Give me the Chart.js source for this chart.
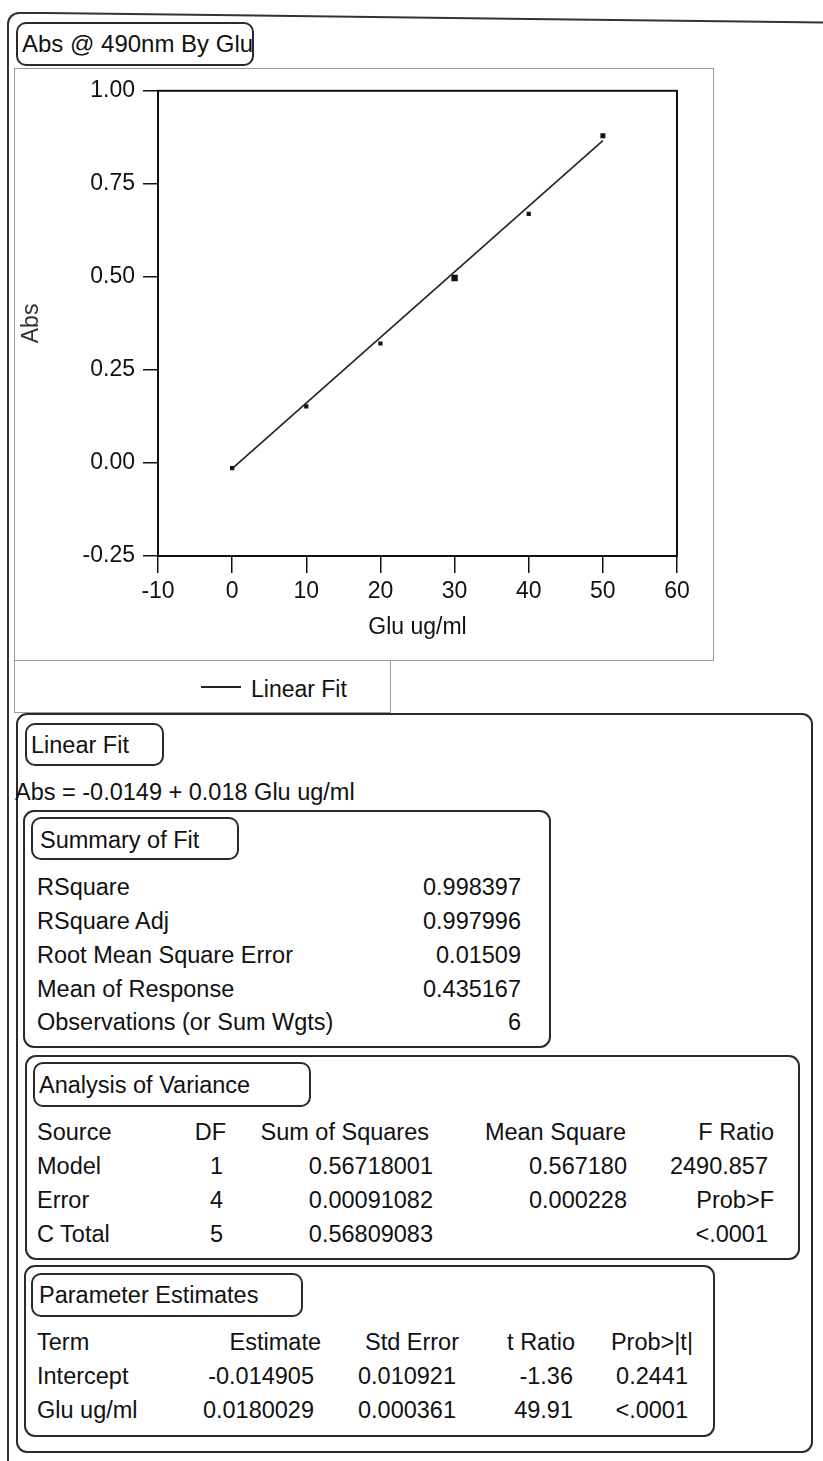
<!DOCTYPE html>
<html>
<head>
<meta charset="utf-8">
<script src="https://cdn.jsdelivr.net/npm/chart.js@4.4.1/dist/chart.umd.min.js"></script>
<style>
  html, body { margin: 0; padding: 0; background: #fff; }
  body { width: 823px; height: 1461px; position: relative; overflow: hidden;
         font-family: "Liberation Sans", Arial, sans-serif; color: #111; }
  .abs { position: absolute; box-sizing: border-box; }
  .rbox { border: 2px solid #2a2a2a; border-radius: 11px; }
  .hdr { border: 2px solid #2a2a2a; border-radius: 10px; }
  .txt { position: absolute; white-space: nowrap; font-size: 23.5px; line-height: 28px; transform: translateY(-50%); }
  .r { text-align: right; }
</style>
</head>
<body>
<script>
// ---------------- data ----------------
const gluValues = [0, 10, 20, 30, 40, 50];
const absValues = [-0.014, 0.152, 0.321, 0.497, 0.669, 0.879];
const fitX = [0, 50];
const fitY = [-0.015, 0.866];
const xTickValues = [-10, 0, 10, 20, 30, 40, 50, 60];
const yTickValues = [-0.25, 0.00, 0.25, 0.50, 0.75, 1.00];
const chartTitle = "Abs @ 490nm By Glu";
const xAxisTitle = "Glu ug/ml";
const yAxisTitle = "Abs";
const legendLabel = "Linear Fit";

const fitHeader = "Linear Fit";
const fitEquation = "Abs = -0.0149 + 0.018 Glu ug/ml";

const summaryTitle = "Summary of Fit";
const summaryLabels = ["RSquare", "RSquare Adj", "Root Mean Square Error", "Mean of Response", "Observations (or Sum Wgts)"];
const summaryValues = ["0.998397", "0.997996", "0.01509", "0.435167", "6"];

const anovaTitle = "Analysis of Variance";
const anovaHeader = ["Source", "DF", "Sum of Squares", "Mean Square", "F Ratio"];
const anovaSource = ["Model", "Error", "C Total"];
const anovaDF = ["1", "4", "5"];
const anovaSS = ["0.56718001", "0.00091082", "0.56809083"];
const anovaMS = ["0.567180", "0.000228", ""];
const anovaF = ["2490.857", "Prob>F", "<.0001"];

const paramTitle = "Parameter Estimates";
const paramHeader = ["Term", "Estimate", "Std Error", "t Ratio", "Prob>|t|"];
const paramTerm = ["Intercept", "Glu ug/ml"];
const paramEstimate = ["-0.014905", "0.0180029"];
const paramStdErr = ["0.010921", "0.000361"];
const paramT = ["-1.36", "49.91"];
const paramP = ["0.2441", "<.0001"];

// ---------------- layout helpers ----------------
function box(cls, l, t, w, h, extra) {
  const d = document.createElement('div');
  d.className = 'abs ' + cls;
  Object.assign(d.style, { left: l + 'px', top: t + 'px', width: w + 'px', height: h + 'px' }, extra || {});
  document.body.appendChild(d);
  return d;
}
function text(str, x, y, right, size) {
  const d = document.createElement('div');
  d.className = 'txt' + (right ? ' r' : '');
  d.textContent = str;
  d.style.top = y + 'px';
  if (size) d.style.fontSize = size + 'px';
  if (right) { d.style.right = (823 - x) + 'px'; } else { d.style.left = x + 'px'; }
  document.body.appendChild(d);
  return d;
}

// outer frame (left edge + rounded corner, then slightly skewed top line)
box('', 7, 12, 40, 1600, { borderLeft: '2px solid #333', borderTop: '2px solid #333', borderTopLeftRadius: '12px' });
box('', 46, 12, 800, 2, { background: '#333', transformOrigin: '0 0', transform: 'rotate(0.7deg)' });
// title box
box('hdr', 16, 22, 238, 44);
text(chartTitle, 22, 44, false, 24);
// chart panel
box('', 14, 68, 700, 593, { border: '1.5px solid #9a9a9a', background: '#fff' });
// legend box
box('', 14, 660, 377, 53, { borderLeft: '1.5px solid #9a9a9a', borderRight: '1.5px solid #9a9a9a', borderBottom: '1.5px solid #9a9a9a' });
box('', 201, 686, 40, 2, { background: '#222' });
text(legendLabel, 251, 689, false, 23);

// lower big box
box('rbox', 16, 713, 797, 740);
box('hdr', 25, 723, 139, 43);
text(fitHeader, 31, 745);
text(fitEquation, 15, 792);

// summary
box('rbox', 23, 810, 528, 238);
box('hdr', 31, 817, 208, 43);
text(summaryTitle, 40, 840);
const sumY = [887, 921, 955, 989, 1022];
summaryLabels.forEach((s, i) => { text(s, 37, sumY[i]); text(summaryValues[i], 521, sumY[i], true); });

// anova
box('rbox', 25, 1055, 775, 205);
box('hdr', 33, 1062, 278, 45);
text(anovaTitle, 39, 1085);
const anovaRight = [null, 226, 429, 626, 774];
text(anovaHeader[0], 37, 1132);
for (let c = 1; c < 5; c++) text(anovaHeader[c], anovaRight[c], 1132, true);
const anovaY = [1166, 1200, 1234];
anovaSource.forEach((s, i) => {
  text(s, 37, anovaY[i]);
  text(anovaDF[i], anovaRight[1] - 3, anovaY[i], true);
  text(anovaSS[i], anovaRight[2] + 4, anovaY[i], true);
  text(anovaMS[i], anovaRight[3] + 1, anovaY[i], true);
  text(anovaF[i], anovaRight[4] - (i === 1 ? 0 : 6), anovaY[i], true);
});

// parameter estimates
box('rbox', 24, 1265, 691, 172);
box('hdr', 31, 1273, 272, 44);
text(paramTitle, 39, 1295);
const paramRight = [null, 321, 459, 575, 693];
text(paramHeader[0], 37, 1342);
for (let c = 1; c < 5; c++) text(paramHeader[c], paramRight[c], 1342, true);
const paramY = [1376, 1410];
paramTerm.forEach((s, i) => {
  text(s, 37, paramY[i]);
  text(paramEstimate[i], paramRight[1] - 7, paramY[i], true);
  text(paramStdErr[i], paramRight[2] - 3, paramY[i], true);
  text(paramT[i], paramRight[3] - 2, paramY[i], true);
  text(paramP[i], paramRight[4] - 5, paramY[i], true);
});

// ---------------- chart ----------------
const cv = document.createElement('canvas');
cv.width = 697; cv.height = 590;
Object.assign(cv.style, { position: 'absolute', left: '15px', top: '69px', width: '697px', height: '590px' });
document.body.appendChild(cv);

const framePlugin = {
  id: 'frame',
  afterDraw(chart) {
    const { ctx, chartArea: a } = chart;
    ctx.save();
    ctx.strokeStyle = '#111';
    ctx.lineWidth = 2;
    ctx.strokeRect(a.left, a.top, a.right - a.left, a.bottom - a.top);
    ctx.restore();
  }
};

const FONT = { family: '"Liberation Sans", Arial, sans-serif', size: 23 };

new Chart(cv, {
  type: 'scatter',
  data: {
    datasets: [
      {
        label: 'points',
        data: gluValues.map((x, i) => ({ x, y: absValues[i] })),
        pointStyle: 'rect',
        pointRadius: [3, 3, 3, 4.5, 3, 3.5],
        backgroundColor: '#111',
        borderColor: '#111',
        borderWidth: 0,
        showLine: false,
        order: 1
      },
      {
        label: legendLabel,
        data: fitX.map((x, i) => ({ x, y: fitY[i] })),
        showLine: true,
        pointRadius: 0,
        borderColor: '#222',
        borderWidth: 1.6,
        fill: false,
        order: 2
      }
    ]
  },
  options: {
    responsive: false,
    animation: false,
    devicePixelRatio: 1,
    layout: { padding: { left: 0, right: 35, top: 21, bottom: 0 } },
    plugins: { legend: { display: false }, tooltip: { enabled: false } },
    scales: {
      x: {
        type: 'linear', min: -10, max: 60,
        afterBuildTicks: s => { s.ticks = xTickValues.map(v => ({ value: v })); },
        afterFit: s => { s.height = 103; },
        ticks: { font: FONT, color: '#111', padding: 5, maxRotation: 0, callback: v => String(v) },
        grid: { drawOnChartArea: false, tickLength: 17, color: '#111', lineWidth: 1.5 },
        border: { display: true, color: '#111', width: 2 },
        title: { display: true, text: xAxisTitle, font: FONT, color: '#111', padding: { top: 0, bottom: 18 } }
      },
      y: {
        type: 'linear', min: -0.25, max: 1,
        afterBuildTicks: s => { s.ticks = yTickValues.map(v => ({ value: v })); },
        afterFit: s => { s.width = 143; },
        ticks: { font: FONT, color: '#111', padding: 8, callback: v => Number(v).toFixed(2) },
        grid: { drawOnChartArea: false, tickLength: 15, color: '#111', lineWidth: 1.5 },
        border: { display: true, color: '#111', width: 2 },
        title: { display: true, text: yAxisTitle, font: FONT, color: '#333', padding: { top: 3, bottom: 0 } }
      }
    }
  },
  plugins: [framePlugin]
});
</script>
</body>
</html>
